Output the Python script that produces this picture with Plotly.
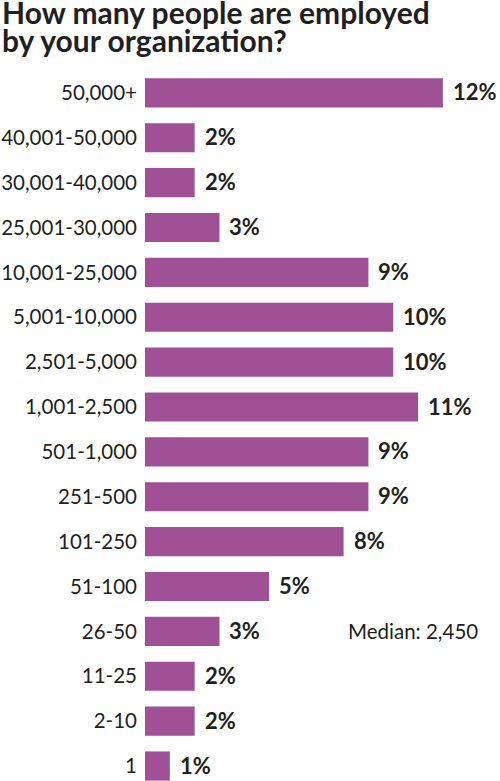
import plotly.graph_objects as go

categories = ["1", "2-10", "11-25", "26-50", "51-100", "101-250", "251-500", "501-1,000",
              "1,001-2,500", "2,501-5,000", "5,001-10,000", "10,001-25,000", "25,001-30,000",
              "30,001-40,000", "40,001-50,000", "50,000+"]
values = [1, 2, 2, 3, 5, 8, 9, 9, 11, 10, 10, 9, 3, 2, 2, 12]
labels = [f"{v}%" for v in values]
title_lines = ["How many people are employed", "by your organization?"]
median_text = "Median: 2,450"

BAR = "#A05196"
TXT = "#231f20"
FONT = "Lato"

fig = go.Figure()
fig.add_trace(go.Bar(
    x=values, y=categories, orientation="h",
    marker=dict(color=BAR, line=dict(width=0)),
    hoverinfo="skip",
))

for i, (v, t) in enumerate(zip(values, labels)):
    fig.add_annotation(x=v, y=i, text=f"<b>{t}</b>", showarrow=False,
                       xanchor="left", yanchor="middle", xshift=8, yshift=1,
                       font=dict(family=FONT, size=22, color=TXT))

fig.add_annotation(x=(480 - 145) / 355, xref="paper", xanchor="right", y=3, yanchor="middle",
                   text=median_text, showarrow=False,
                   font=dict(family=FONT, size=20.5, color=TXT))

# title lines, positioned in paper coords relative to plot area (top=70px, height=711)
for line, ypx in zip(title_lines, [12, 40]):
    fig.add_annotation(x=-145 / 355, xref="paper", xanchor="left",
                       y=(781 - ypx) / 711, yref="paper", yanchor="middle",
                       text=f"<b>{line}</b>", showarrow=False,
                       font=dict(family=FONT, size=30, color=TXT))

fig.update_layout(
    width=500, height=781,
    margin=dict(l=145, r=0, t=70, b=0),
    paper_bgcolor="white", plot_bgcolor="white",
    bargap=0.35,
    showlegend=False,
    xaxis=dict(range=[0, 14.3], visible=False, fixedrange=True),
    yaxis=dict(type="category", categoryorder="array", categoryarray=categories,
               range=[-0.334, 15.51], showgrid=False, zeroline=False, showline=False,
               ticks="", ticklabelstandoff=7,
               tickfont=dict(family=FONT, size=20.5, color=TXT)),
)

fig.write_html("out.html")
